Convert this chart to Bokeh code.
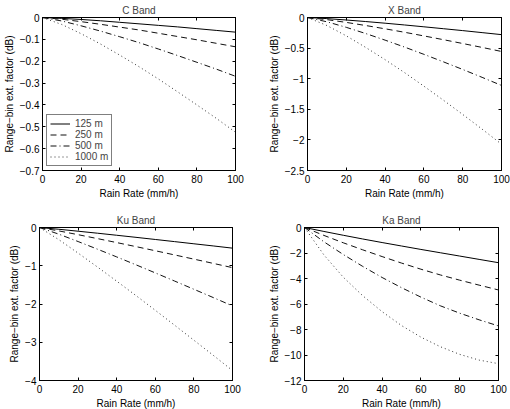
from bokeh.plotting import figure
from bokeh.layouts import column, row
from bokeh.models import Range1d, FixedTicker, LinearAxis, Legend, LegendItem
from bokeh.embed import file_html
from bokeh.resources import INLINE

# Rain rate samples (mm/h)
rain_rate = [0, 10, 20, 30, 40, 50, 60, 70, 80, 90, 100]

# Range-bin lengths shown in each panel
bin_labels = ["125 m", "250 m", "500 m", "1000 m"]

# Range-bin extinction factor (dB) per band, one list per bin length
c_band = [
    [0, -0.004, -0.009, -0.015, -0.022, -0.029, -0.036, -0.043, -0.051, -0.059, -0.067],
    [0, -0.008, -0.019, -0.031, -0.044, -0.057, -0.072, -0.087, -0.102, -0.118, -0.134],
    [0, -0.016, -0.038, -0.062, -0.088, -0.115, -0.144, -0.174, -0.205, -0.236, -0.269],
    [0, -0.032, -0.074, -0.121, -0.172, -0.225, -0.281, -0.340, -0.400, -0.461, -0.525],
]
x_band = [
    [0, -0.018, -0.041, -0.066, -0.093, -0.122, -0.152, -0.183, -0.214, -0.247, -0.280],
    [0, -0.035, -0.080, -0.131, -0.185, -0.241, -0.301, -0.362, -0.425, -0.489, -0.555],
    [0, -0.070, -0.161, -0.262, -0.370, -0.483, -0.602, -0.724, -0.849, -0.978, -1.110],
    [0, -0.131, -0.300, -0.489, -0.689, -0.900, -1.122, -1.350, -1.584, -1.824, -2.070],
]
ku_band = [
    [0, -0.046, -0.097, -0.149, -0.203, -0.257, -0.313, -0.369, -0.426, -0.482, -0.540],
    [0, -0.089, -0.188, -0.290, -0.394, -0.500, -0.608, -0.717, -0.827, -0.938, -1.050],
    [0, -0.174, -0.367, -0.566, -0.769, -0.976, -1.187, -1.400, -1.615, -1.831, -2.050],
    [0, -0.318, -0.669, -1.032, -1.403, -1.780, -2.165, -2.554, -2.947, -3.340, -3.740],
]
ka_band = [
    [0, -0.31, -0.61, -0.90, -1.18, -1.45, -1.72, -1.98, -2.24, -2.50, -2.76],
    [0, -0.62, -1.20, -1.75, -2.28, -2.79, -3.27, -3.72, -4.13, -4.52, -4.90],
    [0, -1.12, -2.12, -3.05, -3.92, -4.72, -5.46, -6.14, -6.72, -7.24, -7.72],
    [0, -2.15, -3.90, -5.35, -6.60, -7.69, -8.60, -9.35, -9.95, -10.40, -10.68],
]

# Axis ticks
x_ticks = [0, 20, 40, 60, 80, 100]
c_ticks = [0, -0.1, -0.2, -0.3, -0.4, -0.5, -0.6, -0.7]
c_tick_labels = ["0", "−0.1", "−0.2", "−0.3", "−0.4", "−0.5", "−0.6", "−0.7"]
x_band_ticks = [0, -0.5, -1, -1.5, -2, -2.5]
x_band_tick_labels = ["0", "−0.5", "−1", "−1.5", "−2", "−2.5"]
ku_ticks = [0, -1, -2, -3, -4]
ku_tick_labels = ["0", "−1", "−2", "−3", "−4"]
ka_ticks = [0, -2, -4, -6, -8, -10, -12]
ka_tick_labels = ["0", "−2", "−4", "−6", "−8", "−10", "−12"]

FONT = "Liberation Sans"
FS = "10px"
DASHES = ["solid", "6 4", "6 3 1 3", "1 3"]
LINE_COLORS = ["#000000", "#111111", "#111111", "#333333"]


def style_axis(ax, ticks, labels=None, show_labels=True):
    ax.ticker = FixedTicker(ticks=ticks)
    ax.major_tick_in = 3
    ax.major_tick_out = 0
    ax.minor_tick_line_color = None
    ax.axis_line_color = "black"
    ax.major_tick_line_color = "black"
    ax.major_label_text_font = FONT
    ax.major_label_text_font_size = FS
    ax.major_label_text_color = "black"
    ax.axis_label_text_font = FONT
    ax.axis_label_text_font_size = FS
    ax.axis_label_text_font_style = "normal"
    ax.axis_label_text_color = "black"
    if show_labels:
        if labels is not None:
            ax.major_label_overrides = {t: l for t, l in zip(ticks, labels)}
    else:
        # tick marks only: no label text and no space reserved for it
        ax.major_label_overrides = {t: "" for t in ticks}
        ax.major_label_text_font_size = "0px"
        ax.major_label_standoff = 0


def make_panel(title, series, y_min, y_ticks, y_labels, left, right, top, bottom,
               frame_w, frame_h, with_legend=False):
    p = figure(
        frame_width=frame_w, frame_height=frame_h,
        min_border_left=left, min_border_right=right,
        min_border_top=top, min_border_bottom=bottom,
        x_range=Range1d(0, 100), y_range=Range1d(y_min, 0),
        output_backend="svg", toolbar_location=None,
        background_fill_color="white", border_fill_color="white",
    )
    p.title.text = title
    p.title.align = "center"
    p.title.text_font = FONT
    p.title.text_font_size = FS
    p.title.text_font_style = "normal"
    p.title.standoff = 4
    p.grid.visible = False
    p.outline_line_color = "black"
    p.outline_line_alpha = 1.0

    style_axis(p.xaxis[0], x_ticks)
    p.xaxis[0].axis_label = "Rain Rate (mm/h)"
    p.xaxis[0].major_label_standoff = 4
    p.xaxis[0].axis_label_standoff = 2
    style_axis(p.yaxis[0], y_ticks, y_labels)
    p.yaxis[0].axis_label = "Range−bin ext. factor (dB)"
    p.yaxis[0].major_label_standoff = 3
    p.yaxis[0].axis_label_standoff = 2

    top_axis = LinearAxis()
    style_axis(top_axis, x_ticks, show_labels=False)
    p.add_layout(top_axis, "above")
    right_axis = LinearAxis()
    style_axis(right_axis, y_ticks, show_labels=False)
    p.add_layout(right_axis, "right")

    items = []
    for vals, dash, col, lab in zip(series, DASHES, LINE_COLORS, bin_labels):
        r = p.line(rain_rate, vals, line_color=col, line_width=1, line_dash=dash)
        items.append(LegendItem(label=lab, renderers=[r]))

    if with_legend:
        leg = Legend(items=items, location="bottom_left")
        leg.margin = 4
        leg.padding = 3
        leg.spacing = 0
        leg.label_height = 11
        leg.glyph_height = 11
        leg.glyph_width = 20
        leg.label_standoff = 5
        leg.label_text_font = FONT
        leg.label_text_font_size = FS
        leg.border_line_color = "black"
        leg.border_line_width = 1
        leg.background_fill_alpha = 1.0
        p.add_layout(leg, "center")
    return p


p_c = make_panel("C Band", c_band, -0.7, c_ticks, c_tick_labels,
                 39, 23, 17, 35, 193, 153, with_legend=True)
p_x = make_panel("X Band", x_band, -2.5, x_band_ticks, x_band_tick_labels,
                 49, 12, 17, 35, 194, 153)
p_ku = make_panel("Ku Band", ku_band, -4, ku_ticks, ku_tick_labels,
                  39, 23, 22, 29, 193, 153)
p_ka = make_panel("Ka Band", ka_band, -12, ka_ticks, ka_tick_labels,
                  49, 12, 22, 29, 194, 153)

layout = column(row(p_c, p_x), row(p_ku, p_ka))

with open("out.html", "w") as f:
    f.write(file_html(layout, INLINE))
